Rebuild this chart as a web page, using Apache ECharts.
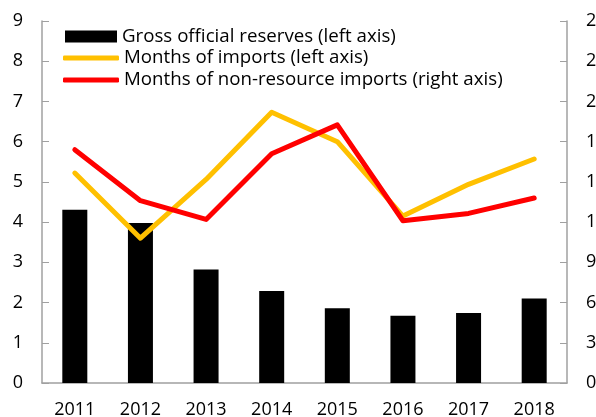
<!DOCTYPE html>
<html>
<head>
<meta charset="utf-8">
<script src="https://cdn.jsdelivr.net/npm/echarts@6/dist/echarts.min.js"></script>
<style>
  html, body { margin: 0; padding: 0; background: #fff; }
  #chart { width: 596px; height: 417px; }
</style>
</head>
<body>
<div id="chart"></div>
<script>
const years = ['2011', '2012', '2013', '2014', '2015', '2016', '2017', '2018'];
const grossReserves = [4.31, 3.98, 2.82, 2.29, 1.86, 1.67, 1.74, 2.10];
const monthsImports = [5.22, 3.6, 5.06, 6.73, 6.0, 4.15, 4.94, 5.57];
const monthsNonResource = [17.4, 13.6, 12.2, 17.1, 19.25, 12.1, 12.65, 13.8];
const leftTicks = [0, 9, 1];
const rightTicks = [0, 27, 3];

const names = ['Gross official reserves (left axis)', 'Months of imports (left axis)', 'Months of non-resource imports (right axis)'];
const FONT = 'Open Sans';
const axisColor = '#a0a0a0';

const chart = echarts.init(document.getElementById('chart'));
const labelStyle = { color: '#000', fontFamily: FONT, fontSize: 18 };
const legendText = { color: '#000', fontFamily: FONT, fontSize: 18.7, lineHeight: 22 };
chart.setOption({
  animation: false,
  grid: { left: 42, right: 29, top: 21, bottom: 34, containLabel: false, outerBoundsMode: 'none' },
  legend: [
    {
      data: [names[0]], orient: 'vertical', left: 65, top: 25.5, padding: 0, itemWidth: 52, itemHeight: 12,
      icon: 'rect', selectedMode: false, itemGap: 0, textStyle: legendText
    },
    {
      data: [names[1], names[2]], orient: 'vertical', left: 63, top: 47, padding: 0, itemWidth: 56, itemHeight: 5,
      icon: 'roundRect', itemGap: 0, selectedMode: false, textStyle: legendText
    }
  ],
  xAxis: {
    type: 'category', data: years,
    axisLine: { lineStyle: { color: axisColor, width: 1.5 } },
    axisTick: { inside: true, length: 6, lineStyle: { color: axisColor } },
    axisLabel: Object.assign({ margin: 18 }, labelStyle),
    splitLine: { show: false }
  },
  yAxis: [
    {
      type: 'value', min: leftTicks[0], max: leftTicks[1], interval: leftTicks[2],
      axisLine: { show: true, lineStyle: { color: axisColor, width: 1.5 } },
      axisTick: { show: true, inside: true, length: 7, lineStyle: { color: axisColor } },
      axisLabel: Object.assign({ margin: 19 }, labelStyle),
      splitLine: { show: false }
    },
    {
      type: 'value', min: rightTicks[0], max: rightTicks[1], interval: rightTicks[2],
      axisLine: { show: true, lineStyle: { color: axisColor, width: 1.5 } },
      axisTick: { show: true, inside: true, length: 7, lineStyle: { color: axisColor } },
      axisLabel: Object.assign({ margin: 19 }, labelStyle),
      splitLine: { show: false }
    }
  ],
  series: [
    {
      name: names[0], type: 'bar', data: grossReserves, yAxisIndex: 0, barWidth: 25,
      itemStyle: { color: '#000' }
    },
    {
      name: names[1], type: 'line', data: monthsImports, yAxisIndex: 0,
      symbol: 'none', itemStyle: { color: '#FFC000' },
      lineStyle: { color: '#FFC000', width: 5, cap: 'round', join: 'round' }
    },
    {
      name: names[2], type: 'line', data: monthsNonResource, yAxisIndex: 1,
      symbol: 'none', itemStyle: { color: '#FF0000' },
      lineStyle: { color: '#FF0000', width: 5, cap: 'round', join: 'round' }
    }
  ]
});
</script>
</body>
</html>
